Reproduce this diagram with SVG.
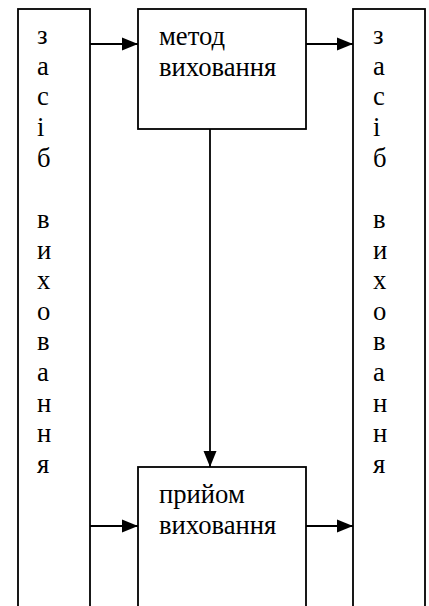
<svg xmlns="http://www.w3.org/2000/svg" width="429" height="606" viewBox="0 0 429 606">
<style>
.box{fill:#fff;stroke:#000;stroke-width:1.8}
.t{font-family:'Liberation Serif','DejaVu Serif',serif;font-size:26.67px;fill:#000}
.c{stroke:#000;stroke-width:1.8;fill:none}
</style>
<defs>
<marker id="ah" markerWidth="16" markerHeight="14" refX="16" refY="7" orient="auto" markerUnits="userSpaceOnUse">
<path d="M0,0.5 L16,7 L0,13.5 Z" fill="#000"/>
</marker>
</defs>
<rect width="429" height="606" fill="#fff"/>
<g id="left-means">
<rect class="box" x="18" y="9" width="72" height="610"/>
<text class="t" font-family="Liberation Serif, serif">
<tspan x="37" y="44">з</tspan><tspan x="37" y="74.6">а</tspan><tspan x="37" y="105.3">с</tspan><tspan x="37" y="135.9">і</tspan><tspan x="37" y="166.6">б</tspan><tspan x="37" y="227.9">в</tspan><tspan x="37" y="258.5">и</tspan><tspan x="37" y="289.2">х</tspan><tspan x="37" y="319.8">о</tspan><tspan x="37" y="350.4">в</tspan><tspan x="37" y="381.1">а</tspan><tspan x="37" y="411.7">н</tspan><tspan x="37" y="442.4">н</tspan><tspan x="37" y="473">я</tspan>
</text>
</g>
<g id="right-means">
<rect class="box" x="353" y="9" width="72" height="610"/>
<text class="t" font-family="Liberation Serif, serif">
<tspan x="373" y="44">з</tspan><tspan x="373" y="74.6">а</tspan><tspan x="373" y="105.3">с</tspan><tspan x="373" y="135.9">і</tspan><tspan x="373" y="166.6">б</tspan><tspan x="373" y="227.9">в</tspan><tspan x="373" y="258.5">и</tspan><tspan x="373" y="289.2">х</tspan><tspan x="373" y="319.8">о</tspan><tspan x="373" y="350.4">в</tspan><tspan x="373" y="381.1">а</tspan><tspan x="373" y="411.7">н</tspan><tspan x="373" y="442.4">н</tspan><tspan x="373" y="473">я</tspan>
</text>
</g>
<g id="method">
<rect class="box" x="138" y="9" width="168" height="120"/>
<text class="t" font-family="Liberation Serif, serif"><tspan x="159" y="45">метод</tspan><tspan x="159" y="75.6">виховання</tspan></text>
</g>
<g id="technique">
<rect class="box" x="138" y="467" width="168" height="152"/>
<text class="t" font-family="Liberation Serif, serif"><tspan x="159" y="503">прийом</tspan><tspan x="159" y="534">виховання</tspan></text>
</g>
<g id="connectors">
<line class="c" x1="90" y1="44" x2="138" y2="44" marker-end="url(#ah)"/>
<line class="c" x1="306" y1="44" x2="353" y2="44" marker-end="url(#ah)"/>
<line class="c" x1="210" y1="129" x2="210" y2="467" marker-end="url(#ah)"/>
<line class="c" x1="90" y1="526" x2="138" y2="526" marker-end="url(#ah)"/>
<line class="c" x1="306" y1="526" x2="353" y2="526" marker-end="url(#ah)"/>
</g>
</svg>
